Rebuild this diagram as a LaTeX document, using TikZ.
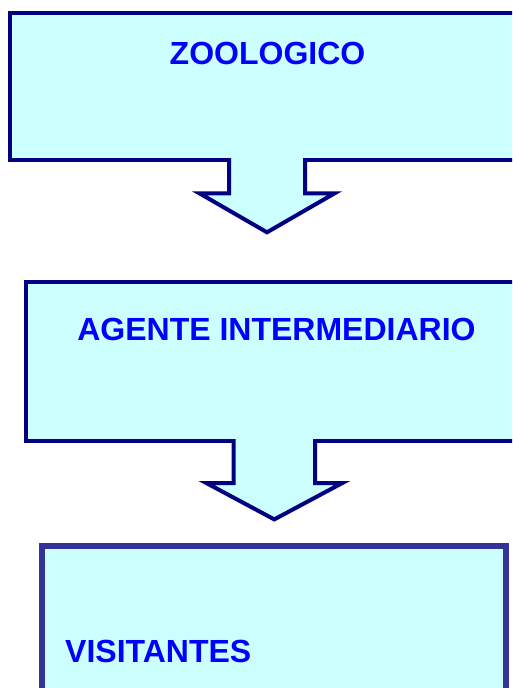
\documentclass[tikz,border=0pt]{standalone}
\usepackage{fontspec}
\setmainfont{Liberation Sans}
\definecolor{celeste}{HTML}{CCFFFF}
\definecolor{azulosc}{HTML}{000080}
\definecolor{violeta}{HTML}{333399}
\definecolor{azul}{HTML}{0000FF}
\begin{document}
\begin{tikzpicture}[x=1pt,y=-1pt,
  caja/.style={draw=azulosc,fill=celeste,line width=4pt,outer sep=0pt,inner sep=0pt},
  flecha/.style={draw=azulosc,fill=celeste,line width=4pt},
  rotulo/.style={text=azul,font=\fontsize{32}{38}\selectfont\bfseries,inner sep=0pt}]
\useasboundingbox (0,0) rectangle (512,688);
\clip (0,0) rectangle (512,688);

% cajas
\node[caja,minimum width=513.4pt,minimum height=147pt] (cajazoo) at (267,86.5) {};
\node[caja,minimum width=496.6pt,minimum height=159pt] (cajaagente) at (274.3,361.5) {};
\node[caja,draw=violeta,line width=6pt,minimum width=464pt,minimum height=174.3pt] (cajavis) at (274.3,632.85) {};

% flechas
\filldraw[flecha] ([xshift=-38pt,yshift=2pt]cajazoo.south) -- ++(0,35.3) -- ++(-29.6,0)
  -- ++(67.6,39) -- ++(67.6,-39) -- ++(-29.6,0) -- ++(0,-35.3);
\filldraw[flecha] ([xshift=-40.7pt,yshift=2pt]cajaagente.south) -- ++(0,44) -- ++(-27.3,0)
  -- ++(68,36.4) -- ++(68,-36.4) -- ++(-27.3,0) -- ++(0,-44);

% textos
\node[rotulo,anchor=base] (zoologico) at (267.5,64) {ZOOLOGICO};
\node[rotulo,anchor=base] (agente) at (276.5,340) {AGENTE INTERMEDIARIO};
\node[rotulo,anchor=base west] (visitantes) at (65,662.3) {VISITANTES};
\end{tikzpicture}
\end{document}
